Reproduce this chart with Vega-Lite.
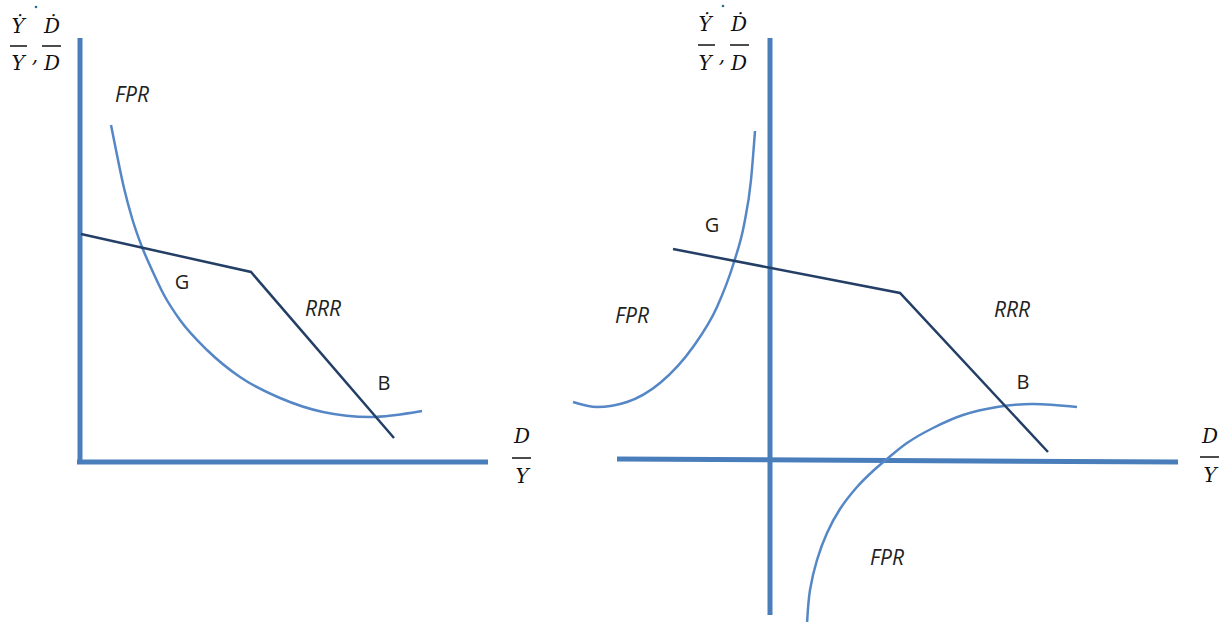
{
  "$schema": "https://vega.github.io/schema/vega-lite/v6.json",
  "width": 1225,
  "height": 622,
  "autosize": {"type": "none"},
  "padding": 0,
  "background": "white",
  "config": {"view": {"stroke": null}},
  "datasets": {
    "axes": [
      {"id": "L-v", "x": 80, "y": 38, "x2": 80, "y2": 464},
      {"id": "L-h", "x": 77, "y": 462, "x2": 488, "y2": 462},
      {"id": "R-v", "x": 770, "y": 38, "x2": 770, "y2": 615},
      {"id": "R-h", "x": 617, "y": 459, "x2": 1178, "y2": 462}
    ],
    "fpr": [
      {"curve": "L", "o": 1, "x": 111, "y": 125},
      {"curve": "L", "o": 2, "x": 117, "y": 155},
      {"curve": "L", "o": 3, "x": 124, "y": 188},
      {"curve": "L", "o": 4, "x": 132, "y": 218},
      {"curve": "L", "o": 5, "x": 142, "y": 247},
      {"curve": "L", "o": 6, "x": 152, "y": 270},
      {"curve": "L", "o": 7, "x": 164, "y": 295},
      {"curve": "L", "o": 8, "x": 180, "y": 320},
      {"curve": "L", "o": 9, "x": 207, "y": 350},
      {"curve": "L", "o": 10, "x": 240, "y": 377},
      {"curve": "L", "o": 11, "x": 280, "y": 398},
      {"curve": "L", "o": 12, "x": 323, "y": 412},
      {"curve": "L", "o": 13, "x": 370, "y": 417},
      {"curve": "L", "o": 14, "x": 422, "y": 411},
      {"curve": "RU", "o": 1, "x": 755, "y": 131},
      {"curve": "RU", "o": 2, "x": 751, "y": 180},
      {"curve": "RU", "o": 3, "x": 744, "y": 225},
      {"curve": "RU", "o": 4, "x": 734, "y": 262},
      {"curve": "RU", "o": 5, "x": 717, "y": 307},
      {"curve": "RU", "o": 6, "x": 693, "y": 347},
      {"curve": "RU", "o": 7, "x": 660, "y": 383},
      {"curve": "RU", "o": 8, "x": 627, "y": 402},
      {"curve": "RU", "o": 9, "x": 597, "y": 407},
      {"curve": "RU", "o": 10, "x": 573, "y": 402}
    ],
    "fprLow": [
      {"curve": "RD", "o": 1, "x": 807, "y": 624},
      {"curve": "RD", "o": 2, "x": 810, "y": 590},
      {"curve": "RD", "o": 3, "x": 817, "y": 560},
      {"curve": "RD", "o": 4, "x": 827, "y": 533},
      {"curve": "RD", "o": 5, "x": 840, "y": 509},
      {"curve": "RD", "o": 6, "x": 857, "y": 487},
      {"curve": "RD", "o": 7, "x": 873, "y": 471},
      {"curve": "RD", "o": 8, "x": 887, "y": 459},
      {"curve": "RD", "o": 9, "x": 907, "y": 443},
      {"curve": "RD", "o": 10, "x": 933, "y": 428},
      {"curve": "RD", "o": 11, "x": 963, "y": 415},
      {"curve": "RD", "o": 12, "x": 997, "y": 407},
      {"curve": "RD", "o": 13, "x": 1032, "y": 404},
      {"curve": "RD", "o": 14, "x": 1077, "y": 407}
    ],
    "rrr": [
      {"panel": "L", "o": 1, "x": 81, "y": 234},
      {"panel": "L", "o": 2, "x": 251, "y": 272},
      {"panel": "L", "o": 3, "x": 394, "y": 438},
      {"panel": "R", "o": 1, "x": 673, "y": 249},
      {"panel": "R", "o": 2, "x": 900, "y": 293},
      {"panel": "R", "o": 3, "x": 1048, "y": 452}
    ],
    "italicLabels": [
      {"t": "FPR", "x": 132, "y": 96},
      {"t": "RRR", "x": 323, "y": 310},
      {"t": "FPR", "x": 632, "y": 317},
      {"t": "RRR", "x": 1012, "y": 311},
      {"t": "FPR", "x": 887, "y": 559}
    ],
    "plainLabels": [
      {"t": "G", "x": 182, "y": 283},
      {"t": "B", "x": 384, "y": 384},
      {"t": "G", "x": 712, "y": 226},
      {"t": "B", "x": 1023, "y": 383}
    ],
    "mathText": [
      {"t": "Ẏ", "x": 18, "y": 27},
      {"t": "Ḋ", "x": 52, "y": 27},
      {"t": "Y", "x": 18, "y": 64},
      {"t": ",", "x": 35, "y": 56},
      {"t": "D", "x": 52, "y": 64},
      {"t": "D", "x": 522, "y": 437},
      {"t": "Y", "x": 522, "y": 477},
      {"t": "Ẏ", "x": 705, "y": 25},
      {"t": "Ḋ", "x": 739, "y": 25},
      {"t": "Y", "x": 705, "y": 64},
      {"t": ",", "x": 722, "y": 56},
      {"t": "D", "x": 739, "y": 64},
      {"t": "D", "x": 1210, "y": 437},
      {"t": "Y", "x": 1210, "y": 476}
    ],
    "dots": [
      {"x": 36, "y": 7},
      {"x": 723, "y": 6}
    ],
    "fracBars": [
      {"x": 10, "x2": 27, "y": 46},
      {"x": 42, "x2": 61, "y": 46},
      {"x": 512, "x2": 531, "y": 458},
      {"x": 698, "x2": 715, "y": 45},
      {"x": 730, "x2": 749, "y": 45},
      {"x": 1200, "x2": 1219, "y": 457}
    ]
  },
  "layer": [
    {
      "data": {"name": "axes"},
      "mark": {"type": "rule", "color": "#4A7EBB", "strokeWidth": 5},
      "encoding": {
        "x": {"field": "x", "type": "quantitative", "scale": {"domain": [0, 1225], "nice": false, "zero": false}, "axis": null},
        "y": {"field": "y", "type": "quantitative", "scale": {"domain": [0, 622], "nice": false, "zero": false, "reverse": true}, "axis": null},
        "x2": {"field": "x2"},
        "y2": {"field": "y2"}
      }
    },
    {
      "data": {"name": "fpr"},
      "mark": {"type": "line", "color": "#5587C6", "strokeWidth": 2.5, "interpolate": "monotone"},
      "encoding": {
        "x": {"field": "x", "type": "quantitative", "scale": {"domain": [0, 1225], "nice": false, "zero": false}, "axis": null},
        "y": {"field": "y", "type": "quantitative", "scale": {"domain": [0, 622], "nice": false, "zero": false, "reverse": true}, "axis": null},
        "detail": {"field": "curve", "type": "nominal"},
        "order": {"field": "o", "type": "quantitative"}
      }
    },
    {
      "data": {"name": "fprLow"},
      "mark": {"type": "line", "color": "#5587C6", "strokeWidth": 2.5, "interpolate": "catmull-rom"},
      "encoding": {
        "x": {"field": "x", "type": "quantitative", "scale": {"domain": [0, 1225], "nice": false, "zero": false}, "axis": null},
        "y": {"field": "y", "type": "quantitative", "scale": {"domain": [0, 622], "nice": false, "zero": false, "reverse": true}, "axis": null},
        "detail": {"field": "curve", "type": "nominal"},
        "order": {"field": "o", "type": "quantitative"}
      }
    },
    {
      "data": {"name": "rrr"},
      "mark": {"type": "line", "color": "#243F66", "strokeWidth": 2.5},
      "encoding": {
        "x": {"field": "x", "type": "quantitative", "scale": {"domain": [0, 1225], "nice": false, "zero": false}, "axis": null},
        "y": {"field": "y", "type": "quantitative", "scale": {"domain": [0, 622], "nice": false, "zero": false, "reverse": true}, "axis": null},
        "detail": {"field": "panel", "type": "nominal"},
        "order": {"field": "o", "type": "quantitative"}
      }
    },
    {
      "data": {"name": "italicLabels"},
      "mark": {"type": "text", "font": "Open Sans", "fontStyle": "italic", "fontSize": 21, "color": "#222222", "align": "center", "baseline": "middle"},
      "encoding": {
        "x": {"field": "x", "type": "quantitative", "scale": {"domain": [0, 1225], "nice": false, "zero": false}, "axis": null},
        "y": {"field": "y", "type": "quantitative", "scale": {"domain": [0, 622], "nice": false, "zero": false, "reverse": true}, "axis": null},
        "text": {"field": "t"}
      }
    },
    {
      "data": {"name": "plainLabels"},
      "mark": {"type": "text", "font": "Open Sans", "fontSize": 20, "color": "#222222", "align": "center", "baseline": "middle"},
      "encoding": {
        "x": {"field": "x", "type": "quantitative", "scale": {"domain": [0, 1225], "nice": false, "zero": false}, "axis": null},
        "y": {"field": "y", "type": "quantitative", "scale": {"domain": [0, 622], "nice": false, "zero": false, "reverse": true}, "axis": null},
        "text": {"field": "t"}
      }
    },
    {
      "data": {"name": "mathText"},
      "mark": {"type": "text", "font": "DejaVu Serif", "fontStyle": "italic", "fontSize": 20, "color": "#111111", "align": "center", "baseline": "middle"},
      "encoding": {
        "x": {"field": "x", "type": "quantitative", "scale": {"domain": [0, 1225], "nice": false, "zero": false}, "axis": null},
        "y": {"field": "y", "type": "quantitative", "scale": {"domain": [0, 622], "nice": false, "zero": false, "reverse": true}, "axis": null},
        "text": {"field": "t"}
      }
    },
    {
      "data": {"name": "dots"},
      "mark": {"type": "point", "shape": "circle", "filled": true, "size": 7, "color": "#2A6F8F", "opacity": 1},
      "encoding": {
        "x": {"field": "x", "type": "quantitative", "scale": {"domain": [0, 1225], "nice": false, "zero": false}, "axis": null},
        "y": {"field": "y", "type": "quantitative", "scale": {"domain": [0, 622], "nice": false, "zero": false, "reverse": true}, "axis": null}
      }
    },
    {
      "data": {"name": "fracBars"},
      "mark": {"type": "rule", "color": "#111111", "strokeWidth": 1.5},
      "encoding": {
        "x": {"field": "x", "type": "quantitative", "scale": {"domain": [0, 1225], "nice": false, "zero": false}, "axis": null},
        "y": {"field": "y", "type": "quantitative", "scale": {"domain": [0, 622], "nice": false, "zero": false, "reverse": true}, "axis": null},
        "x2": {"field": "x2"}
      }
    }
  ]
}
